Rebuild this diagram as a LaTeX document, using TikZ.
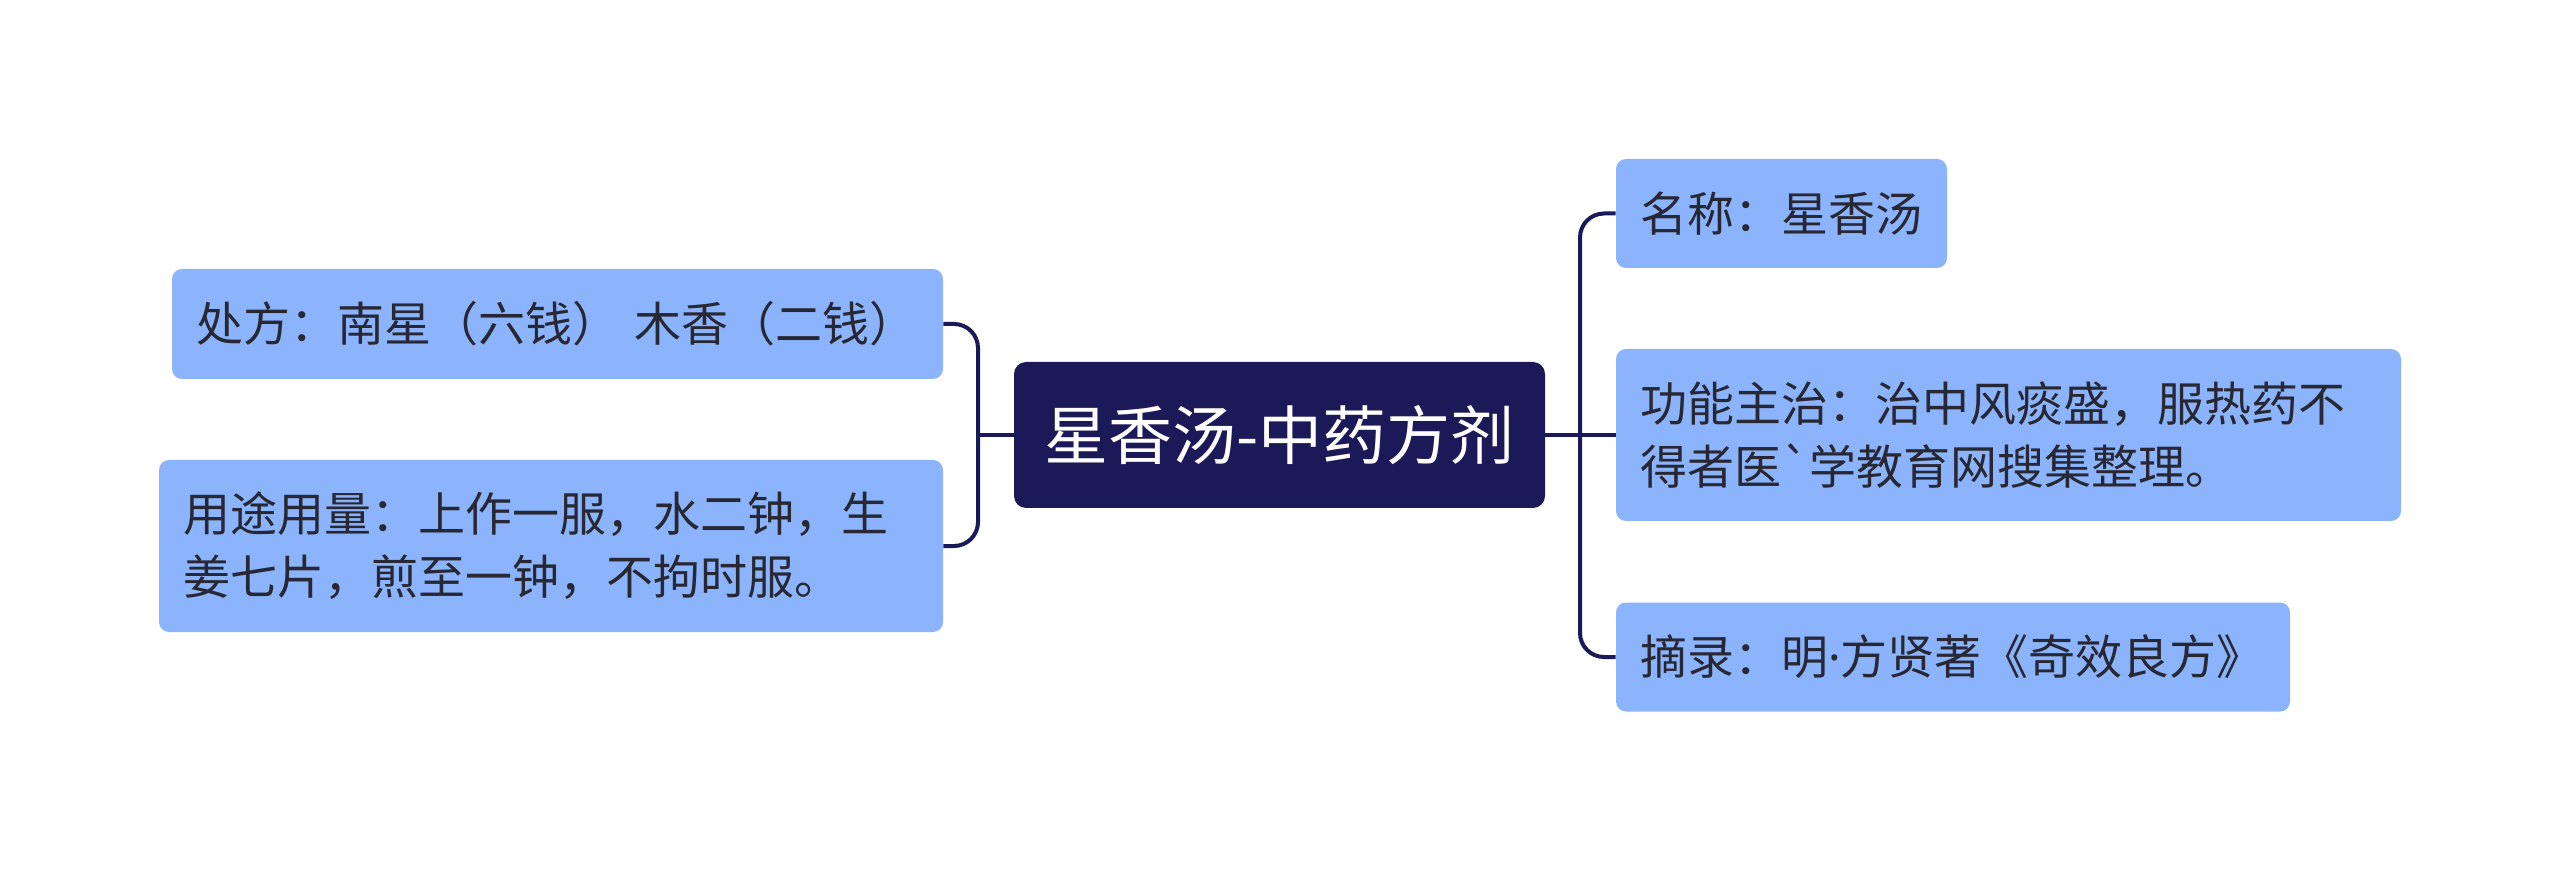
\documentclass[tikz,border=0pt]{standalone}
\usepackage{fontspec}
\newfontfamily\cjk{Noto Sans CJK SC}
\newfontfamily\latinf{Noto Sans}
\definecolor{navy}{RGB}{27,25,87}
\definecolor{childblue}{RGB}{139,180,252}
\definecolor{textdark}{RGB}{40,40,52}
\tikzset{
  childbox/.style={fill=childblue, rounded corners=5pt, inner xsep=12pt, inner ysep=0pt,
    align=left, text=textdark, font=\cjk\fontsize{23.5}{31.5}\selectfont, anchor=center},
  rootbox/.style={fill=navy, rounded corners=6pt, inner sep=0pt, text=white,
    font=\cjk\fontsize{32}{38}\selectfont, minimum width=265.5pt, minimum height=73pt},
  conn/.style={draw=navy, line width=2pt, rounded corners=12pt}
}
\begin{document}
\begin{tikzpicture}[x=0.5pt,y=-0.5pt]
\useasboundingbox[fill=white] (0,0) rectangle (2560,871);
\node[rootbox] (root) at (1279.5,435) {星香汤-中药方剂};
\node[childbox, text width=361.5pt, minimum height=55pt] (n1) at (557.5,324) {处方：南星（六钱）~木香（二钱）};
\node[childbox, text width=368pt, minimum height=86pt] (n2) at (551,546) {用途用量：上作一服，水二钟，生\\姜七片，煎至一钟，不拘时服。};
\node[childbox, text width=141.5pt, minimum height=54.5pt] (r1) at (1781.5,213.5) {名称：星香汤};
\node[childbox, text width=368.5pt, minimum height=86pt] (r2) at (2008.5,435) {功能主治：治中风痰盛，服热药不\\得者医`学教育网搜集整理。};
\node[childbox, text width=313pt, minimum height=54.5pt] (r3) at (1953,657) {摘录：明{\latinf ·}方贤著《奇效良方》};
\coordinate (lj) at (978,435);
\coordinate (rj) at (1580,435);
\draw[conn] (n1.east) -| (lj) |- (n2.east);
\draw[conn] (root.west) -- (lj);
\draw[conn] (r1.west) -| (rj) |- (r3.west);
\draw[conn] (root.east) -- (r2.west);
\end{tikzpicture}
\end{document}
